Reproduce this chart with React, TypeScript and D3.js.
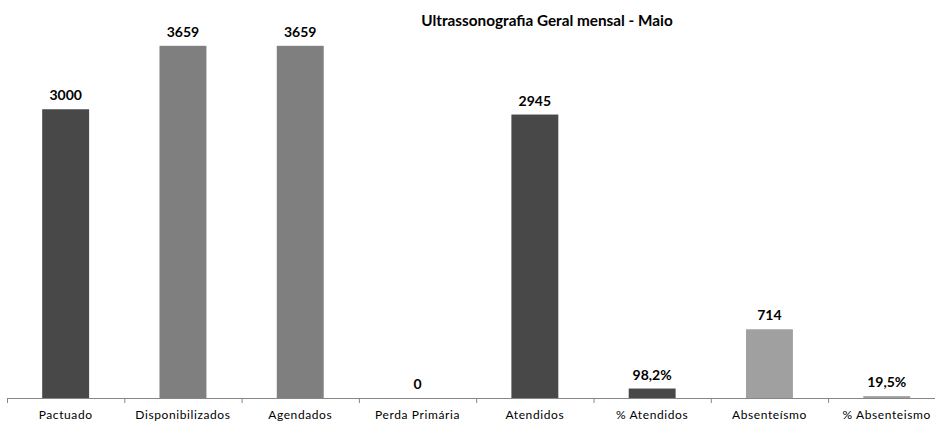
import React from "react";
import { scaleBand, scaleLinear } from "d3";

const width = 935;
const height = 423;

const categories = [
  "Pactuado",
  "Disponibilizados",
  "Agendados",
  "Perda Primária",
  "Atendidos",
  "% Atendidos",
  "Absenteísmo",
  "% Absenteismo",
];
const values = [3000, 3659, 3659, 0, 2945, 98.2, 714, 19.5];
const valueLabels = ["3000", "3659", "3659", "0", "2945", "98,2%", "714", "19,5%"];
const colors = ["#484848", "#7f7f7f", "#7f7f7f", "#7f7f7f", "#484848", "#484848", "#a0a0a0", "#a0a0a0"];

const title = "Ultrassonografia Geral mensal - Maio";

const baseY = 398;
const font = "Lato, 'Open Sans', sans-serif";

export default function App() {
  // x: each category gets a band, chart is clipped at the right edge
  const xScale = scaleBand<string>()
    .domain(categories)
    .range([7, 7 + 117.3 * categories.length])
    .padding(0);

  const yScale = scaleLinear().domain([0, 4000]).range([baseY, 13]);

  const barW = xScale.bandwidth() * 0.4;

  return (
    <svg
      width={width}
      height={height}
      style={{ position: "absolute", left: 0, top: 0, background: "#fff" }}
      fontFamily={font}
    >
      <text x={547} y={26} textAnchor="middle" fontWeight="bold" fontSize={15.3} fill="#000">
        {title}
      </text>

      {/* bars */}
      {categories.map((c, i) => {
        const cx = (xScale(c) ?? 0) + xScale.bandwidth() / 2;
        const y = yScale(values[i]);
        return (
          <g key={c}>
            <rect x={cx - barW / 2} y={y} width={barW} height={baseY - y} fill={colors[i]} />
            <text x={cx} y={y - 9} textAnchor="middle" fontWeight="bold" fontSize={14} fill="#000">
              {valueLabels[i]}
            </text>
          </g>
        );
      })}

      {/* x axis */}
      <line x1={7} x2={width} y1={baseY + 0.5} y2={baseY + 0.5} stroke="#868686" />
      {categories.map((c) => {
        const x0 = xScale(c) ?? 0;
        const cx = x0 + xScale.bandwidth() / 2;
        return (
          <g key={c + "-tick"}>
            <line x1={x0 + 0.5} x2={x0 + 0.5} y1={baseY} y2={baseY + 5} stroke="#868686" />
            <text x={cx} y={419} textAnchor="middle" fontSize={12} letterSpacing={0.6} fill="#000">
              {c}
            </text>
          </g>
        );
      })}
    </svg>
  );
}
